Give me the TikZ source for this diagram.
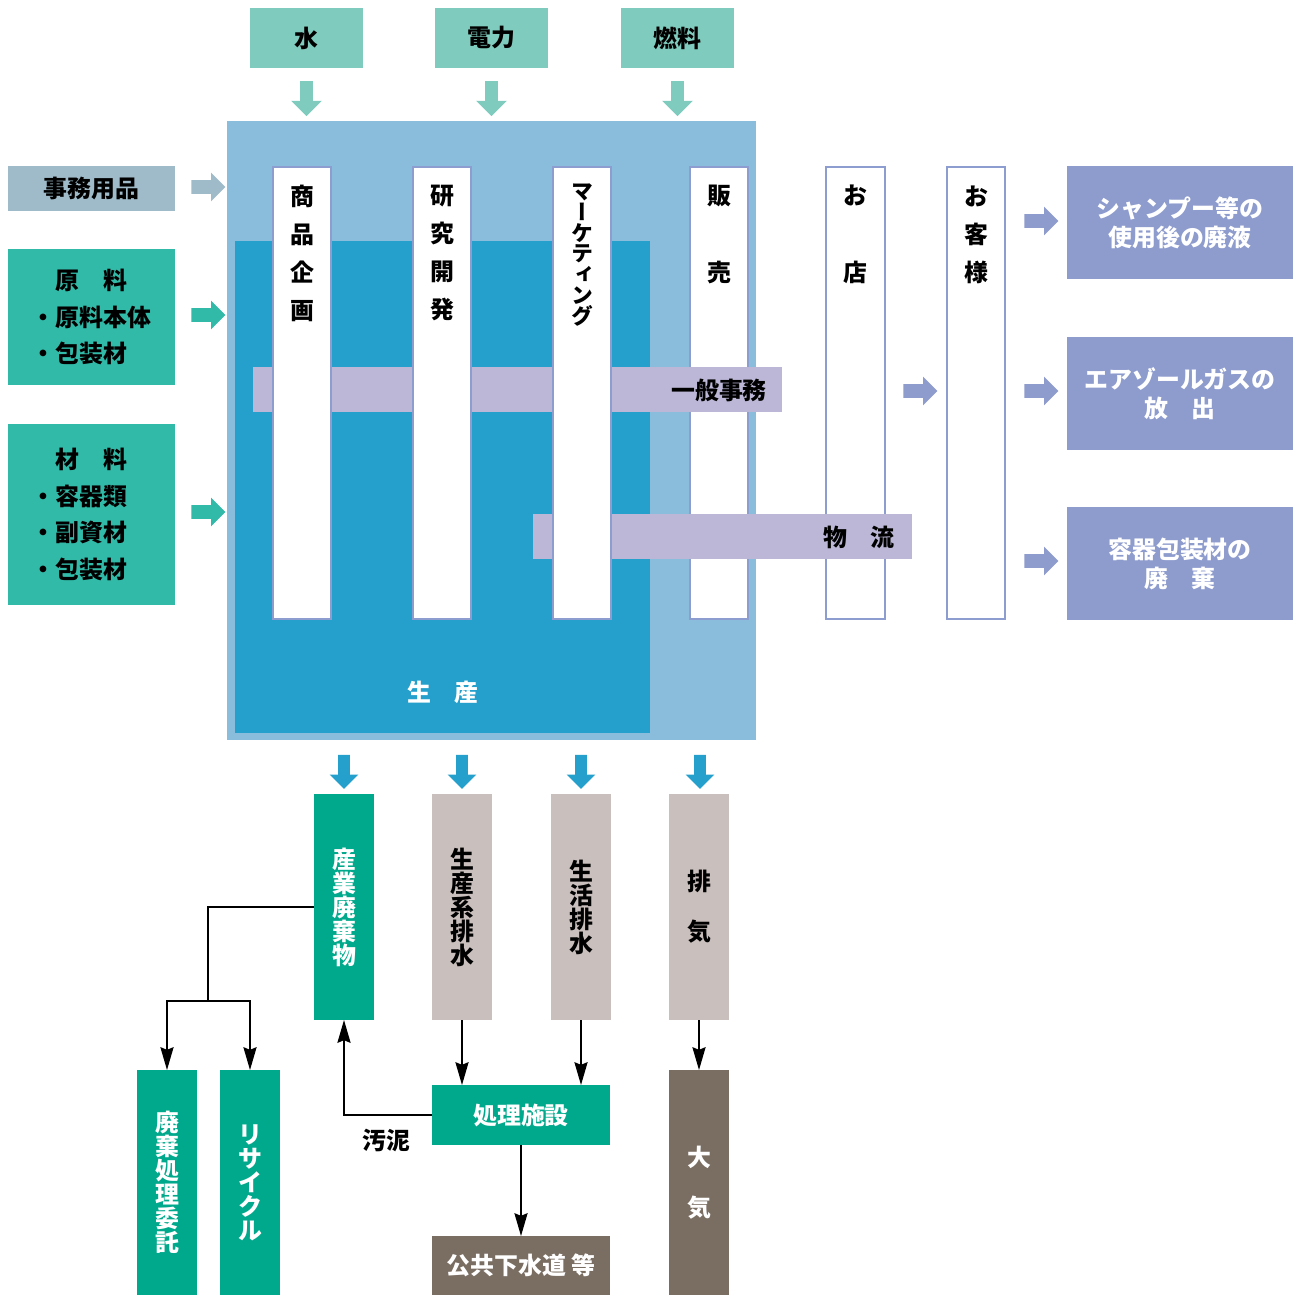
\documentclass[tikz,border=0pt]{standalone}
\usepackage{fontspec}
\setmainfont{Noto Sans CJK JP}
\newfontfamily\vfont[RawFeature=+vert]{Noto Sans CJK JP}
\usetikzlibrary{arrows.meta,shapes.arrows}
\definecolor{topteal}{HTML}{7FCBBD}
\definecolor{lblue}{HTML}{8ABDDC}
\definecolor{dblue}{HTML}{259FCB}
\definecolor{colline}{HTML}{8E9DCF}
\definecolor{lav}{HTML}{BCB7D6}
\definecolor{grayblue}{HTML}{9FBBC9}
\definecolor{tealbox}{HTML}{32BAA8}
\definecolor{purp}{HTML}{8D9BCD}
\definecolor{wgreen}{HTML}{00A88C}
\definecolor{pinkgray}{HTML}{C9BFBD}
\definecolor{wbrown}{HTML}{7A6D62}
\newcommand\jf[2]{\bfseries\fontsize{#1}{#2}\selectfont}
\newcommand\bx[7]{%
  \pgfmathsetmacro\bxw{(#4-#2)*0.02}%
  \pgfmathsetmacro\bxh{(#5-#3)*0.02}%
  \node[#6,minimum width=\bxw cm,minimum height=\bxh cm] (#1) at ({(#2+#4)/2},{(#3+#5)/2}) {#7};}
\begin{document}
\begin{tikzpicture}[x=0.02cm,y=-0.02cm,
  box/.style={inner sep=0pt,outer sep=0pt,align=center},
  col/.style={box,fill=white,draw=colline,line width=1pt},
  tarr/.style={single arrow,outer sep=0pt,draw=none,minimum width=0pt},
  toparr/.style={tarr,fill=topteal,inner sep=0.12cm,minimum height=0.7cm,single arrow head extend=0.18cm,shape border rotate=270},
  sidearr/.style={tarr,inner sep=0.13cm,minimum height=0.68cm,single arrow head extend=0.15cm},
  botarr/.style={tarr,fill=dblue,inner sep=0.11cm,minimum height=0.68cm,single arrow head extend=0.17cm,shape border rotate=270},
  conn/.style={draw=black,line width=0.8pt},
  conntip/.style={-{Stealth[length=13pt,width=7.5pt,inset=1.5pt]}},
  txt/.style={inner sep=0pt,outer sep=0pt,align=center,font=\jf{13.6}{16pt}}
]
\useasboundingbox (0,0) rectangle (1297,1295);
% top inputs
\bx{water}{250}{8}{363}{68}{box,fill=topteal,font=\jf{13.6}{16pt}}{水}
\bx{power}{435}{8}{548}{68}{box,fill=topteal,font=\jf{13.6}{16pt}}{電力}
\bx{fuel}{621}{8}{734}{68}{box,fill=topteal,font=\jf{13.6}{16pt}}{燃料}
\node[toparr] (aw) at (306.5,95.5) {};
\node[toparr] (ap) at (491.5,95.5) {};
\node[toparr] (af) at (677.5,95.5) {};
% plant
\bx{plant}{227}{121}{756}{740}{box,fill=lblue}{}
\bx{prod}{235}{241}{650}{733}{box,fill=dblue}{}
\node[txt,text=white] (prodlabel) at (443,692) {生　産};
% columns behind bars
\bx{hanbai}{690}{167}{748}{619}{col}{}
\bx{shop}{826}{167}{885}{619}{col}{}
\bx{cust}{947}{167}{1005}{619}{col}{}
% bars
\bx{office}{253}{367}{782}{412}{box,fill=lav}{}
\bx{logi}{533}{514}{912}{559}{box,fill=lav}{}
\node[txt] (officelabel) at (719,390) {一般事務};
\node[txt] (logilabel) at (859,537) {物　流};
% columns in front
\bx{plan}{273}{167}{331}{619}{col}{}
\bx{rnd}{413}{167}{471}{619}{col}{}
\bx{mkt}{553}{167}{611}{619}{col}{}
\node[txt,font=\jf{13.6}{21.6pt}] (planlabel) at (302,253) {商\\品\\企\\画};
\node[txt,font=\jf{13.6}{21.6pt}] (rndlabel) at (442,253) {研\\究\\開\\発};
\node[txt,font=\vfont\jf{12.5}{11.9pt}] (mktlabel) at (582,255) {マ\\ー\\ケ\\テ\\ィ\\ン\\グ};
\node[txt,font=\jf{13.6}{43.8pt}] (hanbailabel) at (719,234.5) {販\\売};
\node[txt,font=\jf{13.6}{43.8pt}] (shoplabel) at (855.5,234.5) {お\\店};
\node[txt,font=\jf{13.6}{21.6pt}] (custlabel) at (976,234.5) {お\\客\\様};
% left inputs
\bx{supplies}{8}{166}{175}{211}{box,fill=grayblue,font=\jf{13.6}{16pt}}{事務用品}
\bx{raw}{8}{249}{175}{385}{box,fill=tealbox,font=\jf{13.6}{21pt},text width=2.4cm,align=left}{\phantom{・}原　料\\・原料本体\\・包装材}
\bx{mat}{8}{424}{175}{605}{box,fill=tealbox,font=\jf{13.6}{20.9pt},text width=2.4cm,align=left}{\phantom{・}材　料\\・容器類\\・副資材\\・包装材}
\node[sidearr,fill=grayblue] (as) at (205,187) {};
\node[sidearr,fill=tealbox] (ar) at (205,315) {};
\node[sidearr,fill=tealbox] (am) at (205,512) {};
% right side
\node[sidearr,fill=purp] (ashop) at (917,391) {};
\node[sidearr,fill=purp] (ao1) at (1038,221) {};
\node[sidearr,fill=purp] (ao2) at (1038,391) {};
\node[sidearr,fill=purp] (ao3) at (1038,561) {};
\bx{out1}{1067}{166}{1293}{279}{box,fill=purp,text=white,font=\jf{13.6}{16.5pt}}{シャンプー等の\\使用後の廃液}
\bx{out2}{1067}{337}{1293}{450}{box,fill=purp,text=white,font=\jf{13.6}{16.5pt}}{エアゾールガスの\\放　出}
\bx{out3}{1067}{507}{1293}{620}{box,fill=purp,text=white,font=\jf{13.6}{16.5pt}}{容器包装材の\\廃　棄}
% bottom outputs
\node[botarr] (d1) at (344,769) {};
\node[botarr] (d2) at (462,769) {};
\node[botarr] (d3) at (581,769) {};
\node[botarr] (d4) at (700,769) {};
\bx{ind}{314}{794}{374}{1020}{box,fill=wgreen,text=white,font=\jf{13.6}{13.66pt}}{産\\業\\廃\\棄\\物}
\bx{prodw}{432}{794}{492}{1020}{box,fill=pinkgray,font=\jf{13.6}{13.66pt}}{生\\産\\系\\排\\水}
\bx{lifew}{551}{794}{611}{1020}{box,fill=pinkgray,font=\jf{13.6}{13.66pt}}{生\\活\\排\\水}
\bx{exh}{669}{794}{729}{1020}{box,fill=pinkgray,font=\jf{13.6}{28.4pt}}{排\\気}
\bx{treat}{432}{1085}{610}{1145}{box,fill=wgreen,text=white,font=\jf{13.6}{16pt}}{処理施設}
\bx{sewer}{432}{1236}{610}{1295}{box,fill=wbrown,text=white,font=\jf{13.6}{16pt}}{公共下水道 等}
\bx{air}{669}{1070}{729}{1295}{box,fill=wbrown,text=white,font=\jf{13.6}{28.4pt}}{大\\気}
\bx{entrust}{137}{1070}{197}{1295}{box,fill=wgreen,text=white,font=\jf{13.6}{13.66pt}}{廃\\棄\\処\\理\\委\\託}
\bx{recyc}{220}{1070}{280}{1295}{box,fill=wgreen,text=white,font=\jf{13.6}{13.66pt}}{リ\\サ\\イ\\ク\\ル}
% connectors
\coordinate (split) at (208,1001);
\draw[conn] (ind.west) -| (split);
\draw[conn,conntip] (split) -| (entrust.north);
\draw[conn,conntip] (split) -| (recyc.north);
\draw[conn,conntip] (prodw.south) -- (prodw.south |- treat.north);
\draw[conn,conntip] (lifew.south) -- (lifew.south |- treat.north);
\draw[conn,conntip] (exh.south) -- (air.north);
\draw[conn,conntip] (treat.south) -- (sewer.north);
\draw[conn,conntip] (treat.west) -| (ind.south);
\node[txt] (sludge) at (386,1140) {汚泥};
\end{tikzpicture}
\end{document}
